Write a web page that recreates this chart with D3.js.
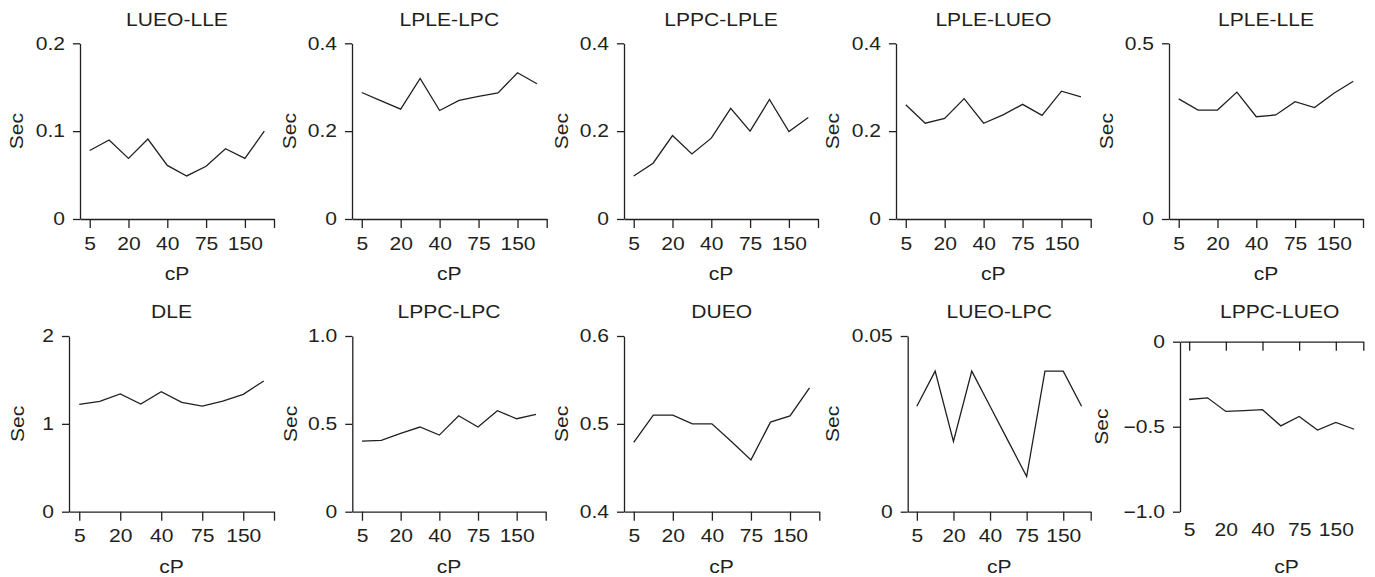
<!DOCTYPE html>
<html>
<head>
<meta charset="UTF-8">
<script src="https://d3js.org/d3.v7.min.js"></script>
<style>
  body { margin: 0; background: #fff; }
  text { font-family: "Liberation Sans", Arial, sans-serif; fill: #231f20; }
</style>
</head>
<body>
<svg id="canvas"></svg>
<script>
width = 1375;
height = 577;

// categories on the x axis (only every other one is labelled)
cP = ["5", "10", "20", "30", "40", "50", "75", "100", "150", "200"];

titles = ["LUEO-LLE", "LPLE-LPC", "LPPC-LPLE", "LPLE-LUEO", "LPLE-LLE",
          "DLE", "LPPC-LPC", "DUEO", "LUEO-LPC", "LPPC-LUEO"];

lueoLle  = [0.078, 0.090, 0.069, 0.091, 0.061, 0.049, 0.060, 0.080, 0.069, 0.100];
lpleLpc  = [0.288, 0.269, 0.250, 0.320, 0.247, 0.270, 0.279, 0.287, 0.333, 0.308];
lppcLple = [0.098, 0.127, 0.190, 0.148, 0.184, 0.252, 0.200, 0.272, 0.199, 0.231];
lpleLueo = [0.260, 0.218, 0.229, 0.274, 0.218, 0.237, 0.261, 0.236, 0.291, 0.278];
lpleLle  = [0.342, 0.310, 0.310, 0.361, 0.291, 0.296, 0.334, 0.317, 0.358, 0.392];
dle      = [1.222, 1.256, 1.340, 1.226, 1.366, 1.245, 1.203, 1.260, 1.336, 1.488];
lppcLpc  = [0.402, 0.406, 0.446, 0.482, 0.436, 0.546, 0.482, 0.575, 0.529, 0.554];
dueo     = [0.479, 0.510, 0.510, 0.500, 0.500, 0.480, 0.459, 0.502, 0.509, 0.541];
lueoLpc  = [0.030, 0.040, 0.020, 0.040, 0.030, 0.020, 0.010, 0.040, 0.040, 0.030];
lppcLueo = [-0.340, -0.330, -0.410, -0.405, -0.400, -0.495, -0.440, -0.520, -0.475, -0.515];

series = [lueoLle, lpleLpc, lppcLple, lpleLueo, lpleLle,
          dle, lppcLpc, dueo, lueoLpc, lppcLueo];

yDomains = [[0, 0.2], [0, 0.4], [0, 0.4], [0, 0.4], [0, 0.5],
            [0, 2], [0, 1], [0.4, 0.6], [0, 0.05], [-1, 0]];
yTicks = [[0, 0.1, 0.2], [0, 0.2, 0.4], [0, 0.2, 0.4], [0, 0.2, 0.4], [0, 0.5],
          [0, 1, 2], [0, 0.5, 1], [0.4, 0.5, 0.6], [0, 0.05], [-1, -0.5, 0]];
yTickLabels = [["0", "0.1", "0.2"], ["0", "0.2", "0.4"], ["0", "0.2", "0.4"], ["0", "0.2", "0.4"], ["0", "0.5"],
               ["0", "1", "2"], ["0", "0.5", "1.0"], ["0.4", "0.5", "0.6"], ["0", "0.05"], ["\u22121.0", "\u22120.5", "0"]];

// panel frames: y-axis x, right end of x axis, top, bottom, offset of "Sec", title baseline row y
frames = [
  [80, 274, 43.3, 219, 63, 20], [352, 546.7, 43.3, 219, 62, 20], [624, 818, 43.3, 219, 62, 20],
  [896, 1090.7, 43.3, 219, 63, 20], [1169, 1363, 43.3, 219, 62, 20],
  [69, 274, 336, 511.7, 51, 312], [352.3, 545.7, 336, 511.7, 62, 312], [624, 819.3, 336, 511.7, 62, 312],
  [907.7, 1090.7, 336, 511.7, 75, 312], [1180, 1363.3, 341.7, 511.7, 78, 312]
];

ink = "#231f20";

canvas = d3.select("#canvas")
  .attr("width", width)
  .attr("height", height);

frames.forEach((f, p) => {
  const [x0, x1, y0, y1, secOff, titleY] = f;
  const g = canvas.append("g");

  const x = d3.scaleLinear().domain([-0.5, cP.length - 0.5]).range([x0, x1]);
  const y = d3.scaleLinear().domain(yDomains[p]).range([y1, y0]);

  const xTickVals = [0, 2, 4, 6, 8, cP.length - 0.5];
  const xFmt = (v) => (Number.isInteger(v) ? cP[v] : "");

  const negative = yDomains[p][1] <= 0;

  // x axis
  const xAxisY = negative ? y(0) : y1;
  g.append("g")
    .attr("transform", "translate(0," + xAxisY + ")")
    .attr("color", ink)
    .call(d3.axisBottom(x).tickValues(xTickVals).tickFormat(negative ? "" : xFmt)
      .tickSize(9).tickPadding(9).tickSizeOuter(0));
  if (negative) {
    // labels sit under the plot when the axis runs along the top
    g.append("g")
      .attr("transform", "translate(0," + y1 + ")")
      .attr("color", ink)
      .call(d3.axisBottom(x).tickValues([0, 2, 4, 6, 8]).tickFormat(xFmt)
        .tickSize(0).tickPadding(12))
      .select(".domain").remove();
  }

  // y axis
  g.append("g")
    .attr("transform", "translate(" + x0 + ",0)")
    .attr("color", ink)
    .call(d3.axisLeft(y).tickValues(yTicks[p])
      .tickFormat((d, i) => yTickLabels[p][i])
      .tickSize(7).tickPadding(8).tickSizeOuter(0));

  g.selectAll(".domain, .tick line").attr("stroke-width", 1.3);
  g.selectAll(".tick text").attr("font-size", 18).attr("font-family", null);

  // line
  const line = d3.line()
    .x((d, i) => x(i))
    .y((d) => y(d));
  g.append("path")
    .datum(series[p])
    .attr("d", line)
    .attr("fill", "none")
    .attr("stroke", ink)
    .attr("stroke-width", 1.3);

  // title
  g.append("text")
    .attr("x", (x0 + x1) / 2 + (negative ? 8 : 0)).attr("y", titleY)
    .attr("dy", "0.35em")
    .attr("text-anchor", "middle")
    .attr("font-size", 18)
    .text(titles[p]);

  // x label
  g.append("text")
    .attr("x", (x0 + x1) / 2 + (negative ? 15 : 0)).attr("y", y1 + 55)
    .attr("dy", "0.35em")
    .attr("text-anchor", "middle")
    .attr("font-size", 18)
    .text("cP");

  // y label
  g.append("text")
    .attr("transform", "translate(" + (x0 - secOff) + "," + (y0 + y1) / 2 + ") rotate(-90)")
    .attr("dy", "0.35em")
    .attr("text-anchor", "middle")
    .attr("font-size", 18)
    .text("Sec");
});

// the original figure is stretched sideways, so widen every label a little
canvas.selectAll("text").each(function () {
  const w = this.getComputedTextLength();
  if (w > 0) {
    d3.select(this).attr("textLength", w * 1.17).attr("lengthAdjust", "spacingAndGlyphs");
  }
});
</script>
</body>
</html>
